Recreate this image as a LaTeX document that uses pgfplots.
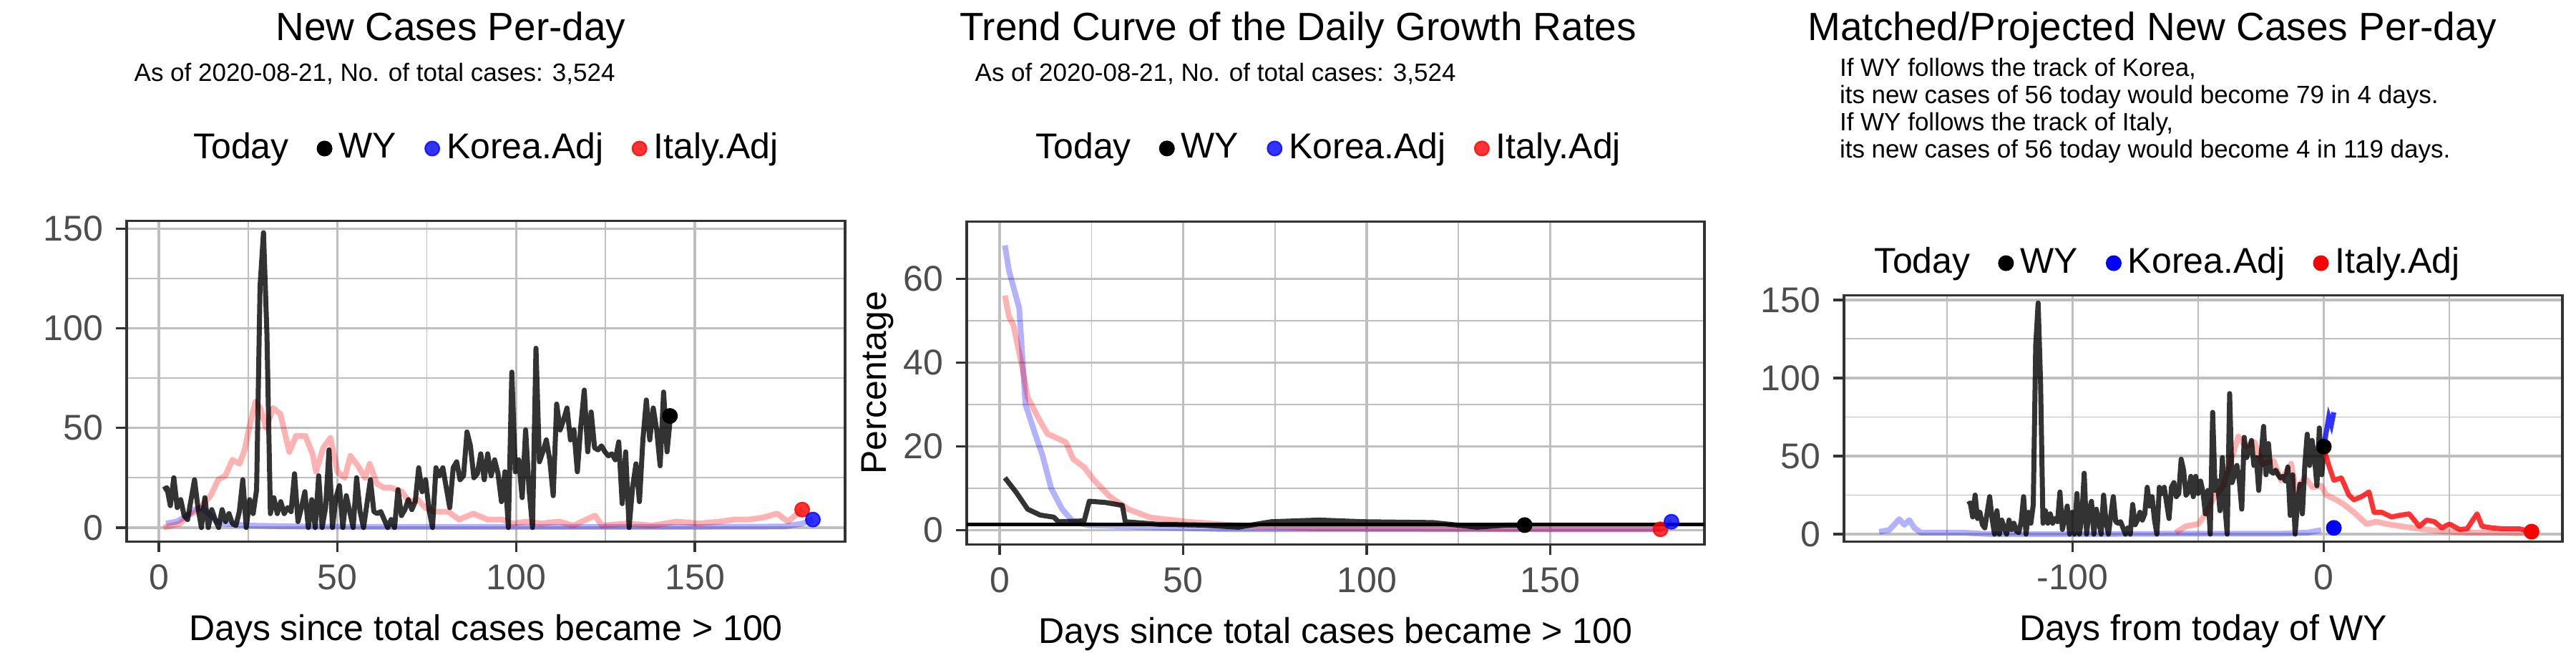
\documentclass[border=0pt]{standalone}
\usepackage{pgfplots}
\usepackage{pgfplotstable}
\pgfplotsset{compat=1.18}
\usepackage{fontspec}
\setmainfont{Liberation Sans}
\definecolor{gg30}{HTML}{4D4D4D}
\definecolor{grid}{HTML}{EBEBEB}
\pgfplotsset{
  ggbase/.style={
    scale only axis, anchor=south west,
    /pgf/number format/assume math mode=true,
    tick label style={font=\fontsize{10}{12}\selectfont, text=gg30},
    label style={font=\fontsize{10}{12}\selectfont},
    axis line style={black!80, line width=0.7pt},
    major grid style={grid, line width=0.7pt},
    minor grid style={grid, line width=0.35pt},
    grid=both, minor tick num=1,
    tick style={black!80, line width=0.7pt},
    tick align=outside, major tick length=3pt, minor tick length=0pt,
    xtick pos=bottom, ytick pos=left,
    legend style={draw=none, fill=none, font=\fontsize{10}{12}\selectfont, anchor=center,
      /tikz/every even column/.append style={column sep=6pt}},
    legend columns=-1,
    legend cell align=left,
  },
  wy/.style={black, opacity=0.8, line width=1.4pt, line join=round},
  kor/.style={blue, opacity=0.3, line width=1.6pt, line join=round},
  ita/.style={red, opacity=0.3, line width=1.6pt, line join=round},
  dot/.style={only marks, mark=*, mark size=2pt},
}
\pgfplotstableread{
i y
1 19
2 20
3 11
4 25
5 10
6 14
7 6
8 4
9 14
10 24
11 10
12 0
13 15
14 0
15 9
16 4
17 0
18 9
19 3
20 7
21 2
22 1
23 8
24 24
25 0
26 14
27 7
28 19
29 121
30 148
31 97
32 7
33 15
34 7
35 13
36 7
37 10
38 8
39 27
40 3
41 10
42 18
43 0
44 14
45 0
46 26
47 0
48 10
49 39
50 0
51 15
52 21
53 0
54 16
55 8
56 0
57 25
58 8
59 0
60 12
61 24
62 8
63 7
64 8
65 4
66 0
67 4
68 0
69 19
70 6
71 9
72 14
73 9
74 13
75 30
76 18
77 24
78 9
79 0
80 30
81 26
82 30
83 20
84 10
85 30
86 33
87 24
88 26
89 48
90 41
91 25
92 27
93 37
94 24
95 37
96 26
97 34
98 27
99 13
100 28
101 0
102 78
103 28
104 34
105 15
106 49
107 19
108 0
109 90
110 33
111 38
112 44
113 34
114 16
115 62
116 49
117 54
118 60
119 44
120 49
121 28
122 51
123 69
124 38
125 58
126 40
127 39
128 41
129 38
130 36
131 37
132 34
133 43
134 12
135 38
136 0
137 20
138 32
139 13
140 44
141 64
142 44
143 60
144 49
145 31
146 68
147 38
148 56
}\wytable
\begin{document}
\begin{tikzpicture}
\path (0,0) rectangle (720pt,180pt);
% titles
\node[font=\fontsize{11}{13}\selectfont] at (126pt,171.6pt) {New Cases Per-day};
\node[font=\fontsize{11}{13}\selectfont] at (362.8pt,171.6pt) {Trend Curve of the Daily Growth Rates};
\node[font=\fontsize{11}{13}\selectfont] at (601.6pt,171.6pt) {Matched/Projected New Cases Per-day};
\node[anchor=west, font=\fontsize{7}{8}\selectfont] at (34pt,159.4pt) {As of 2020-08-21, No. of total cases: 3,524};
\node[anchor=west, font=\fontsize{7}{8}\selectfont] at (269pt,159.4pt) {As of 2020-08-21, No. of total cases: 3,524};
\node[anchor=north west, align=left, font=\fontsize{7}{7.6}\selectfont, inner sep=0pt] at (514pt,164pt)
 {If WY follows the track of Korea,\\its new cases of 56 today would become 79 in 4 days.\\If WY follows the track of Italy,\\its new cases of 56 today would become 4 in 119 days.};

% Panel 1
\begin{axis}[ggbase, at={(35.4pt,28.8pt)}, width=200.8pt, height=89.6pt,
  xmin=-9, xmax=192, ymin=-7, ymax=154,
  xtick={0,50,100,150}, ytick={0,50,100,150},
  xlabel={Days since total cases became > 100},
  legend style={at={(0.5,1.225)}}]
\addlegendimage{empty legend}\addlegendentry{Today}
\addlegendimage{dot, black}\addlegendentry{WY}
\addlegendimage{dot, blue, opacity=0.8}\addlegendentry{Korea.Adj}
\addlegendimage{dot, red, opacity=0.8}\addlegendentry{Italy.Adj}
\addplot[kor, forget plot] coordinates {(2,2)(5,3)(8,6)(10,9)(12,10)(14,7)(16,3)(18,2)(25,1)(40,0.5)(60,0.3)(100,0.3)(140,0.3)(175,0.5)(180,2)(183,4)};
\addplot[ita, forget plot] coordinates {(1.3,0)(6,2)(8,6)(10.5,8)(13,13)(14.5,16)(16.6,24)(18.6,26)(20.6,34)(22.6,32)(24,39)(25.3,50)(27,63)(28.4,60)(30,50)(32,60)(34,57)(36.5,38)(38.4,46)(41,46)(43,37)(44,28)(46,40)(48,45)(50,28)(52,25)(53.6,36)(55.7,31)(57.7,25)(59,32)(61,22)(63,20)(65,20)(68,18)(70,13)(72.5,14)(74.5,10)(77,8)(81,8)(84,4)(88,7)(92,4)(96,4)(99,2)(103,3)(107,2)(112,3)(116,1)(122,6)(124,1)(131,2)(138,1)(145,3)(151,2)(157,3)(161,4)(165,4)(169,5)(173,7)(176,3)(180,9)};
\addplot[wy, forget plot] table[x expr={1.3+(\thisrow{i}-1)*0.965}, y=y] {\wytable};
\addplot[dot, black, forget plot] coordinates {(143,56)};
\addplot[dot, red, opacity=0.8, forget plot] coordinates {(180,9)};
\addplot[dot, blue, opacity=0.8, forget plot] coordinates {(183,4)};
\end{axis}

% Panel 2
\begin{axis}[ggbase, at={(270.2pt,28pt)}, width=206.2pt, height=90.2pt,
  xmin=-9, xmax=192, ymin=-3.4, ymax=73.7,
  xtick={0,50,100,150}, ytick={0,20,40,60},
  xlabel={Days since total cases became > 100}, ylabel={Percentage},
  ylabel style={yshift=-4pt},
  legend style={at={(0.49,1.226)}}]
\addlegendimage{empty legend}\addlegendentry{Today}
\addlegendimage{dot, black}\addlegendentry{WY}
\addlegendimage{dot, blue, opacity=0.8}\addlegendentry{Korea.Adj}
\addlegendimage{dot, red, opacity=0.8}\addlegendentry{Italy.Adj}
\addplot[kor, forget plot] coordinates {(1.4,68)(2.5,62)(5.3,53)(7,30)(10,22)(11.6,18)(14,10)(17,5)(20,2)(24,1.2)(40,0.7)(63,0.2)(180,0.2)(183,2)};
\addplot[ita, forget plot] coordinates {(1.4,56)(2.5,51)(3.7,49)(6,39.5)(7.6,31.7)(11,26)(13,23)(18,21)(20,17)(23,15)(25.6,12)(30,8)(35,5)(41,3)(51,2)(63,1.2)(87,0.4)(165,0.2)(180,0.2)};
\addplot[wy, forget plot] coordinates {(1.4,12.5)(4.5,9)(7.6,5)(11,3.6)(14.7,3.1)(16,2)(23,2.2)(24.4,6.9)(28.8,6.6)(33.4,5.9)(34.2,2)(43,1.4)(55,1.2)(65,0.7)(74,2)(87,2.4)(99,2)(118,1.8)(130,0.7)(138,1.2)(143,1.2)};
\addplot[black, line width=1pt, forget plot] coordinates {(-9,1.4)(192,1.4)};
\addplot[dot, black, forget plot] coordinates {(143,1.2)};
\addplot[dot, red, opacity=0.8, forget plot] coordinates {(180,0.2)};
\addplot[dot, blue, opacity=0.8, forget plot] coordinates {(183,2)};
\end{axis}

% Panel 3
\begin{axis}[ggbase, at={(515.4pt,28.8pt)}, width=200.8pt, height=68.8pt,
  xmin=-191, xmax=95, ymin=-4.7, ymax=153,
  xtick={-100,0}, minor xtick={-150,-50,50}, ytick={0,50,100,150}, minor ytick={25,75,125},
  xlabel={Days from today of WY},
  legend style={at={(0.45,1.13)}}]
\addlegendimage{empty legend}\addlegendentry{Today}
\addlegendimage{dot, black}\addlegendentry{WY}
\addlegendimage{dot, blue}\addlegendentry{Korea.Adj}
\addlegendimage{dot, red}\addlegendentry{Italy.Adj}
\addplot[kor, forget plot] coordinates {(-177,1.5)(-173,2.6)(-169,9.6)(-167,6)(-165,9)(-163,4)(-160.5,1)(-144,1)(-133,0)(-100,0)(-60,0.3)(-17,0.3)(-6.5,1)(-1,2.6)};
\addplot[ita, forget plot] coordinates {(-59,1)(-55,5)(-50,6.5)(-47,13)(-43.5,24)(-40,31)(-37,47)(-34,62.5)(-31,56)(-27.6,59)(-24.5,45)(-20,47)(-17,34.5)(-13,45)(-11,28)(-7.6,36)(-4.4,30)(-1,31)(1,25)(5,22)(8,19)(12,14)(17,6.5)(21,8)(25,6.5)(31,5)(38,3.4)(46,2)(57,1)(67,1)(80,0.6)};
\addplot[wy, forget plot] table[x expr={1.3+(\thisrow{i}-1)*0.965-143}, y=y] {\wytable};
\addplot[red, opacity=0.8, line width=1.4pt, line join=round, forget plot] coordinates {(0,55)(2,44)(4,34.5)(7,36)(10,25)(12,22)(15,24)(18,27)(20,14)(23,14)(27,11)(30,12)(34,13)(38,5)(41,9)(44,8)(47,4)(50,6.5)(54,3)(57,3.4)(61,13)(63,5)(67,4)(71.5,3.4)(78,3.4)(82.7,1.6)};
\addplot[blue, opacity=0.8, line width=1.4pt, forget plot] coordinates {(0,56)(2,75)(3,70)(4,78)};
\addplot[dot, black, forget plot] coordinates {(0,56)};
\addplot[dot, blue, forget plot] coordinates {(4,4)};
\addplot[dot, red, forget plot] coordinates {(82.7,1.6)};
\end{axis}
\end{tikzpicture}
\end{document}
